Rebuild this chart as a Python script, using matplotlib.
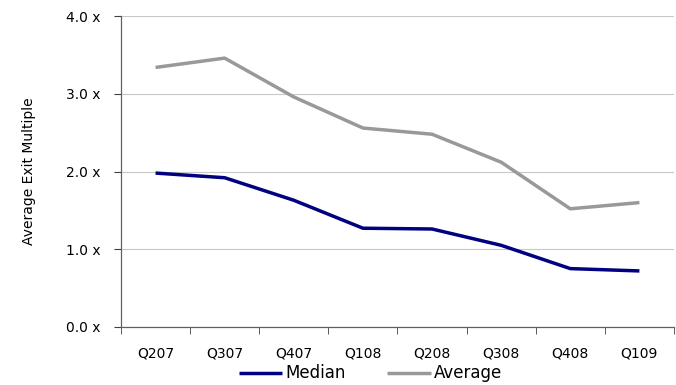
import matplotlib.pyplot as plt
from matplotlib.ticker import FixedLocator, NullFormatter, FuncFormatter

quarters = ["Q207", "Q307", "Q407", "Q108", "Q208", "Q308", "Q408", "Q109"]
median = [1.98, 1.92, 1.63, 1.27, 1.26, 1.05, 0.75, 0.72]
average = [3.34, 3.46, 2.96, 2.56, 2.48, 2.12, 1.52, 1.60]

fig = plt.figure(figsize=(6.76, 3.85), dpi=100)
ax = fig.add_axes([0.179, 0.151, 0.818, 0.807])

x = range(len(quarters))
ax.plot(x, median, color="#000080", linewidth=2.5, label="Median", solid_capstyle="butt")
ax.plot(x, average, color="#999999", linewidth=2.5, label="Average", solid_capstyle="butt")

ax.set_xlim(-0.5, len(quarters) - 0.5)
ax.set_ylim(0, 4)
ax.set_yticks([0, 1, 2, 3, 4])
ax.yaxis.set_major_formatter(FuncFormatter(lambda v, _: f"{v:.1f} x"))
ax.set_xticks(list(x))
ax.set_xticklabels(quarters)
ax.xaxis.set_minor_locator(FixedLocator([i - 0.5 for i in range(len(quarters) + 1)]))
ax.xaxis.set_minor_formatter(NullFormatter())
ax.tick_params(axis="x", which="major", length=0, pad=14, labelsize=10)
ax.tick_params(axis="x", which="minor", length=5, color="#404040")
ax.tick_params(axis="y", length=5, color="#404040", labelsize=10, pad=10)

ax.grid(axis="y", color="#c8c8c8", linewidth=0.8)
ax.set_axisbelow(True)
for side in ["top", "right"]:
    ax.spines[side].set_visible(False)
for side in ["left", "bottom"]:
    ax.spines[side].set_color("#606060")
    ax.spines[side].set_linewidth(0.9)

ax.set_ylabel("Average Exit Multiple", fontsize=10, labelpad=21)

fig.legend(loc="center", bbox_to_anchor=(0.548, 0.03), ncol=2, frameon=False,
           fontsize=12, handlelength=2.6, handletextpad=0.2, columnspacing=2.5)

fig.savefig("out.png", dpi=100)
